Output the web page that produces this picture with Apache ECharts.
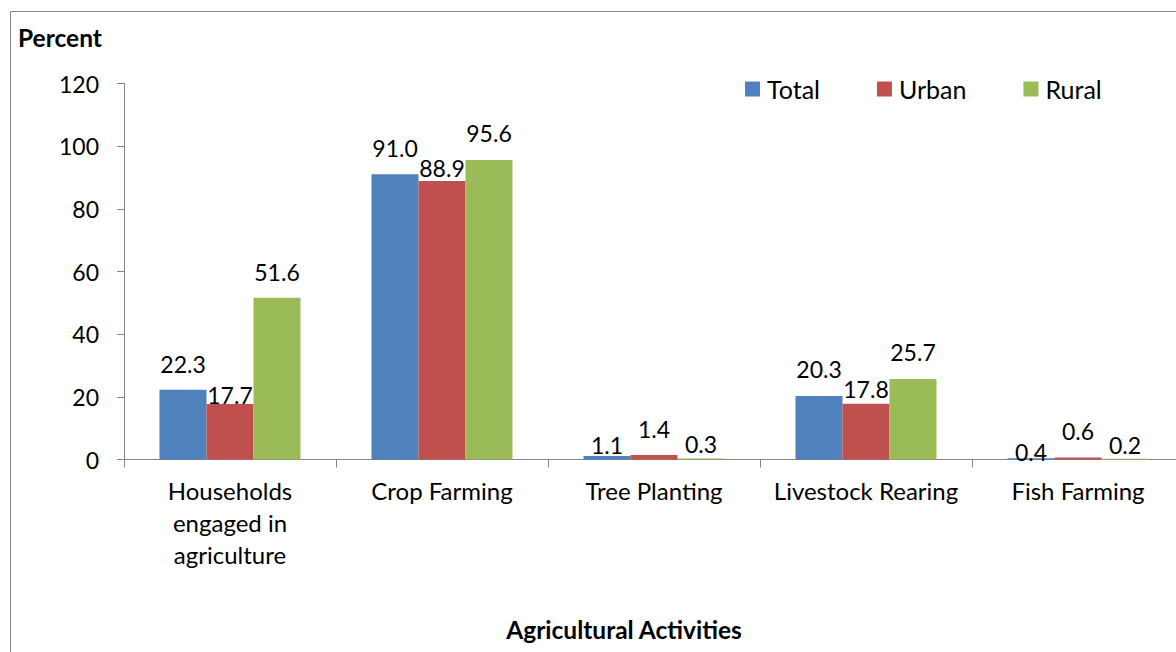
<!DOCTYPE html>
<html>
<head>
<meta charset="utf-8">
<script src="https://cdn.jsdelivr.net/npm/echarts@6/dist/echarts.min.js"></script>
<style>
  html, body { margin: 0; padding: 0; background: #fff; }
  #chart { width: 1176px; height: 652px; }
</style>
</head>
<body>
<div id="chart"></div>
<script>
// Agricultural activities by residence (percent of households)
const categories = [
  'Households\nengaged in\nagriculture',
  'Crop Farming',
  'Tree Planting',
  'Livestock Rearing',
  'Fish Farming'
];
const seriesNames = ['Total', 'Urban', 'Rural'];
const totalValues = [22.3, 91.0, 1.1, 20.3, 0.4];
const urbanValues = [17.7, 88.9, 1.4, 17.8, 0.6];
const ruralValues = [51.6, 95.6, 0.3, 25.7, 0.2];
const yTicks = { min: 0, max: 120, step: 20 };

// label lift above each bar (px), staggered so neighbouring labels don't collide
const labelLift = [
  [14, 15, 0, 15, -5],
  [-2, 1, 15, 3, 15],
  [14, 15, 3, 15, 2]
];

const colors = ['#4F81BD', '#C0504D', '#9BBB59'];
const FONT = 'Lato';
const axisGray = '#868686';

const valueSets = [totalValues, urbanValues, ruralValues];

const series = seriesNames.map((name, s) => ({
  name,
  type: 'bar',
  barGap: 0,
  barCategoryGap: '33.5%',
  itemStyle: { color: colors[s] },
  data: valueSets[s].map((v, i) => ({
    value: v,
    label: { distance: labelLift[s][i] }
  })),
  label: {
    show: true,
    position: 'top',
    color: '#000',
    fontFamily: FONT,
    fontSize: 23,
    formatter: p => Number(p.value).toFixed(1)
  }
}));

const chart = echarts.init(document.getElementById('chart'), null, { renderer: 'svg' });
chart.setOption({
  animation: false,
  backgroundColor: '#fff',
  textStyle: { fontFamily: FONT },
  graphic: [{
    type: 'rect',
    silent: true,
    shape: { x: 10.5, y: 11.5, width: 1400, height: 1000 },
    style: { fill: 'none', stroke: axisGray, lineWidth: 1 }
  }],
  title: [
    {
      text: 'Percent',
      left: 18, top: 25,
      padding: 0,
      textStyle: { fontFamily: FONT, fontWeight: 'bold', fontSize: 24.5, color: '#000' }
    },
    {
      text: 'Agricultural Activities',
      left: 624, top: 617,
      textAlign: 'center',
      padding: 0,
      textStyle: { fontFamily: FONT, fontWeight: 'bold', fontSize: 24.5, color: '#000' }
    }
  ],
  legend: {
    data: seriesNames,
    left: 740,
    top: 71.5,
    icon: 'rect',
    itemWidth: 15,
    itemHeight: 15,
    itemGap: 57,
    textStyle: { fontFamily: FONT, fontSize: 25, color: '#000', padding: [0, 0, 0, 2] }
  },
  grid: { left: 124, top: 83.5, width: 1060, height: 376, outerBoundsMode: 'none' },
  xAxis: {
    type: 'category',
    data: categories,
    axisLine: { lineStyle: { color: axisGray, width: 1 } },
    axisTick: { show: true, length: 8, alignWithLabel: false, lineStyle: { color: axisGray } },
    axisLabel: {
      interval: 0,
      margin: 15,
      color: '#000',
      fontFamily: FONT,
      fontSize: 24,
      lineHeight: 32
    }
  },
  yAxis: {
    type: 'value',
    min: yTicks.min,
    max: yTicks.max,
    interval: yTicks.step,
    splitLine: { show: false },
    axisLine: { show: true, lineStyle: { color: axisGray, width: 1 } },
    axisTick: { show: true, length: 7, lineStyle: { color: axisGray } },
    axisLabel: { margin: 25, color: '#000', fontFamily: FONT, fontSize: 23 }
  },
  series
});
</script>
</body>
</html>
